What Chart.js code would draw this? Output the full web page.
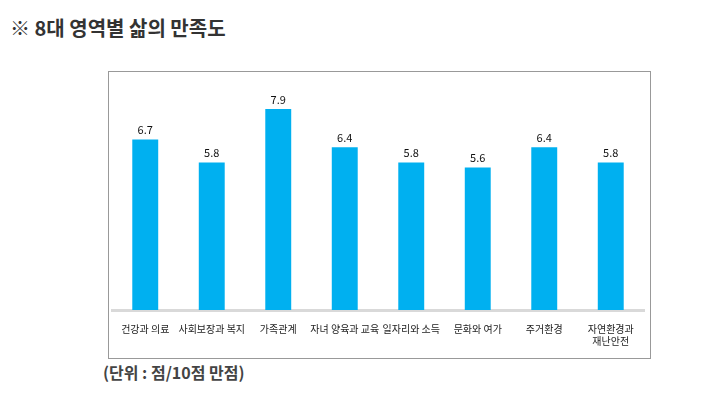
<!DOCTYPE html>
<html>
<head>
<meta charset="utf-8">
<script src="https://cdn.jsdelivr.net/npm/chart.js@4.4.1/dist/chart.umd.min.js"></script>
<style>
  body { margin: 0; width: 715px; height: 393px; background: #fff; position: relative; font-family: "Noto Sans CJK KR", sans-serif; }
  #title { position: absolute; left: 10px; top: 13px; font-size: 20px; font-weight: bold; color: #333; }
  #box { position: absolute; left: 108px; top: 71px; width: 541px; height: 286px; border: 1px solid #999; }
  #unit { position: absolute; left: 103px; top: 360px; font-size: 16px; font-weight: bold; color: #444; }
</style>
</head>
<body>
<div id="title">※ 8대 영역별 삶의 만족도</div>
<div id="box"><canvas id="bar1"></canvas></div>
<div id="unit">(단위 : 점/10점 만점)</div>
<script>
var categories = ['건강과 의료', '사회보장과 복지', '가족관계', '자녀 양육과 교육', '일자리와 소득', '문화와 여가', '주거환경', ['자연환경과', '재난안전']];
var scores = [6.7, 5.8, 7.9, 6.4, 5.8, 5.6, 6.4, 5.8];

var valueLabels = {
    id: 'valueLabels',
    afterDatasetsDraw: function (chart) {
        var ctx = chart.ctx;
        var meta = chart.getDatasetMeta(0);
        ctx.save();
        ctx.font = '11px "Noto Sans CJK KR", sans-serif';
        ctx.fillStyle = '#111';
        ctx.textAlign = 'center';
        ctx.textBaseline = 'bottom';
        meta.data.forEach(function (bar, i) {
            ctx.fillText(scores[i].toFixed(1), bar.x, bar.y - 4);
        });
        ctx.restore();
    }
};

function barChart(labels, dataset) {
    var el = document.getElementById('bar1');
    el.width = 541;
    el.height = 286;
    var config = {
        type: 'bar',
        data: {
            labels: labels,
            datasets: [{
                data: dataset,
                backgroundColor: '#00B0F0',
                barPercentage: 0.78,
                categoryPercentage: 0.5
            }]
        },
        options: {
            responsive: false,
            animation: false,
            layout: { padding: { left: 3, right: 6, top: 9, bottom: 6 } },
            plugins: { legend: { display: false }, tooltip: { enabled: false } },
            scales: {
                y: { display: false, min: 0, max: 9 },
                x: {
                    grid: { display: false },
                    border: { color: '#d9d9d9', width: 3 },
                    ticks: {
                        color: '#222',
                        font: { size: 10, family: '"Noto Sans CJK KR", sans-serif' },
                        maxRotation: 0,
                        autoSkip: false,
                        padding: 5
                    }
                }
            }
        },
        plugins: [valueLabels]
    };
    new Chart(el.getContext('2d'), config);
}

barChart(categories, scores);
</script>
</body>
</html>
